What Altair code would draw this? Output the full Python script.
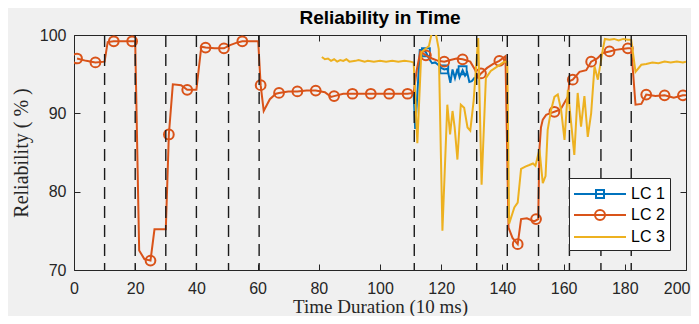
import altair as alt
import pandas as pd

# ---------------- data ----------------
series_names = ["LC 1", "LC 2", "LC 3"]
series_colors = ["#0072BD", "#D95319", "#EDB120"]

# LC 2 (orange) line vertices
lc2_x = [1, 4, 7, 10, 11, 13, 16, 19, 20, 21.3, 23, 25, 26.3, 30, 31, 32.3, 35, 37, 40,
         41.6, 43, 46, 49, 51, 53, 55, 58, 60.2, 61, 62, 64, 66, 67, 70, 73, 76, 79, 82,
         84, 85, 88, 91, 94, 97, 100, 103, 106, 109, 111, 112, 113.2, 115, 117, 119, 121,
         123, 125, 127, 129.5, 131, 132, 133, 135, 137, 139, 141, 142, 143.3, 145, 146.1,
         148, 150.4, 151.7, 152.1, 152.6, 153.2, 154.3, 155.5, 157, 159, 160.5, 161.4,
         161.9, 163, 165.2, 167.4, 169, 171, 172.8, 175, 177, 179, 181, 182.1, 183.5,
         185.4, 187, 190, 193, 196, 199, 200]
lc2_y = [97.0, 96.7, 96.5, 96.6, 99.1, 99.2, 99.2, 99.2, 99.2, 72.5, 71.4, 71.2, 75.2, 75.2,
         87.3, 93.7, 93.6, 93.0, 93.0, 98.5, 98.4, 98.3, 98.3, 98.7, 99.0, 99.2, 99.2, 99.2,
         93.6, 90.3, 91.8, 92.5, 92.6, 92.8, 92.8, 92.9, 92.9, 92.7, 92.1, 92.2, 92.5, 92.5,
         92.5, 92.5, 92.5, 92.5, 92.5, 92.5, 92.6, 95.5, 97.9, 97.4, 97.0, 96.7, 96.6, 96.8,
         97.0, 96.9, 96.6, 95.6, 94.6, 95.1, 95.8, 96.3, 96.7, 97.3, 75.4, 74.1, 73.3, 76.5,
         76.6, 76.2, 76.5, 85.4, 88.2, 89.2, 89.8, 90.0, 90.2, 90.5, 91.5, 92.1, 94.1, 94.3,
         95.3, 95.5, 96.6, 97.0, 97.7, 97.9, 98.1, 98.2, 98.3, 98.3, 91.1, 91.2, 92.4, 92.2,
         92.3, 92.0, 92.3, 92.3]
lc2_marker_x = [1, 7, 13, 19, 25, 31, 37, 43, 49, 55, 61, 67, 73, 79, 85, 91, 97, 103, 109,
                115, 121, 127, 133, 139, 145, 151, 157, 163, 169, 175, 181, 187, 193, 199]
lc2_marker_y = [97.0, 96.5, 99.2, 99.2, 71.2, 87.3, 93.0, 98.4, 98.3, 99.2, 93.6, 92.6, 92.8,
                92.9, 92.2, 92.5, 92.5, 92.5, 92.5, 97.4, 96.6, 96.9, 95.1, 96.7, 73.3, 76.5,
                90.2, 94.3, 96.6, 97.9, 98.3, 92.4, 92.3, 92.3]

# LC 1 (blue)
lc1_x = [111, 111.5, 112.3, 113, 114, 115, 116, 117, 118, 119, 120, 121, 122, 123, 123.7,
         124.5, 125.3, 126, 127, 127.8, 128.5, 129.2, 130, 131]
lc1_y = [92.5, 88.0, 93.0, 98.1, 98.1, 97.8, 97.0, 96.4, 96.5, 96.2, 95.8, 95.6, 95.7, 93.9,
         95.6, 94.5, 95.7, 94.6, 95.5, 94.8, 95.2, 94.0, 94.1, 94.6]
lc1_marker_x = [115, 121, 127]
lc1_marker_y = [97.8, 95.6, 95.5]

# LC 3 (yellow)
lc3_x = [81, 82, 83, 84, 85, 86, 87, 88, 89, 90, 92, 93, 95, 96, 98, 100, 102, 104, 106, 108,
         110, 111, 112.2, 113.5, 116, 117.6, 119.2, 120.4, 122.0, 122.9, 123.7, 124.4, 125.3,
         126.4, 127.5, 128.6, 129.5, 130.6, 131.3, 132.1, 133.2, 134.6, 136.2, 138.4, 140.6,
         141.6, 142.2, 143.9, 145, 146.1, 147.5, 148.8, 150, 150.8, 152.1, 153.2, 154.1,
         154.8, 155.9, 157, 158.1, 159.2, 160.3, 161.4, 162.4, 163.5, 164.6, 165.7, 166.8,
         167.9, 169, 170.1, 171.2, 172.8, 173.5, 175, 176.5, 178, 179.5, 181, 182.1, 183.5,
         185.4, 187, 189, 191, 193, 195, 197, 199, 200]
lc3_y = [97.2, 96.9, 97.0, 96.7, 96.9, 96.6, 96.8, 96.7, 96.9, 96.6, 96.7, 96.8, 96.6, 96.7,
         96.6, 96.7, 96.6, 96.7, 96.6, 96.7, 96.6, 96.5, 86.2, 97.8, 98.6, 101.5, 98.2, 75.0,
         91.1, 87.3, 90.3, 88.2, 84.1, 91.1, 90.7, 88.2, 87.8, 91.6, 95.4, 99.6, 80.9, 94.5,
         95.4, 96.0, 96.6, 96.6, 75.9, 78.0, 78.6, 82.9, 83.2, 83.4, 83.6, 83.3, 85.4, 81.1,
         82.0, 87.9, 90.4, 92.1, 92.4, 90.4, 86.6, 93.0, 89.0, 84.7, 92.6, 88.3, 92.2, 87.0,
         90.0, 96.0, 94.3, 98.1, 99.5, 99.4, 99.5, 99.3, 99.5, 99.4, 99.4, 95.3, 96.2, 96.3,
         96.5, 96.4, 96.6, 96.5, 96.6, 96.5, 96.6]

# vertical dashed boundaries
boundary_x = [10, 20, 30, 40, 50.5, 60.5, 111.2, 131.6, 141.6, 151.8, 161.9, 172.2, 182.1]

x_ticks = [0, 20, 40, 60, 80, 100, 120, 140, 160, 180, 200]
y_ticks = [70, 80, 90, 100]

# ---------------- chart ----------------
x_scale = alt.Scale(domain=[0, 200], nice=False, zero=False)
y_scale = alt.Scale(domain=[70, 100], nice=False, zero=False)
AX = "#262626"
SANS = "Liberation Sans"
SERIF = "Liberation Serif"

common_axis = dict(offset=-6, tickSize=6, domain=False, grid=False, tickColor=AX,
                   tickWidth=1, labelColor=AX, labelFont=SANS, labelFontSize=16,
                   labelFlush=False, labelOverlap=False, labelBound=False,
                   titleFont=SERIF, titleFontWeight="normal", titleColor=AX)

last_tick = "datum.value == 200"
x_axis_bottom = alt.Axis(orient="bottom", values=x_ticks, title="Time Duration (10 ms)",
                         labelPadding=10, titleFontSize=19, titleBaseline="alphabetic",
                         titleY=48,
                         labelAlign={"condition": {"test": last_tick, "value": "right"},
                                     "value": "center"},
                         labelOffset={"condition": {"test": last_tick, "value": 4},
                                      "value": 0},
                         **common_axis)
y_axis_left = alt.Axis(orient="left", values=y_ticks, title="Reliability ( % )",
                       labelPadding=8, titleFontSize=20, titlePadding=8, **common_axis)
x_axis_top = alt.Axis(orient="top", values=x_ticks, title=None, labels=False, **common_axis)
y_axis_right = alt.Axis(orient="right", values=y_ticks, title=None, labels=False, **common_axis)

df1 = pd.DataFrame({"x": lc1_x, "y": lc1_y})
df1m = pd.DataFrame({"x": lc1_marker_x, "y": lc1_marker_y})
df2 = pd.DataFrame({"x": lc2_x, "y": lc2_y})
df2m = pd.DataFrame({"x": lc2_marker_x, "y": lc2_marker_y})
df3 = pd.DataFrame({"x": lc3_x, "y": lc3_y})
dfb = pd.DataFrame({"x": boundary_x})
dfl = pd.DataFrame({"series": series_names})


def xy(xaxis=None, yaxis=None):
    return dict(x=alt.X("x:Q", scale=x_scale, axis=xaxis),
                y=alt.Y("y:Q", scale=y_scale, axis=yaxis))


lc1_line = alt.Chart(df1).mark_line(color=series_colors[0], strokeWidth=2, clip=True).encode(**xy())
lc1_pts = alt.Chart(df1m).mark_point(shape="square", size=64, filled=False, color=series_colors[0],
                                     strokeWidth=1.8, opacity=1, clip=True).encode(**xy())
lc2_line = alt.Chart(df2).mark_line(color=series_colors[1], strokeWidth=2, clip=True).encode(
    **xy(x_axis_bottom, y_axis_left))
lc2_pts = alt.Chart(df2m).mark_point(shape="circle", size=95, filled=False, color=series_colors[1],
                                     strokeWidth=2, opacity=1, clip=True).encode(**xy())
lc3_line = alt.Chart(df3).mark_line(color=series_colors[2], strokeWidth=2, clip=True).encode(
    **xy(x_axis_top, y_axis_right))
bounds = alt.Chart(dfb).mark_rule(color="#1a1a1a", strokeWidth=1.4, strokeDash=[12, 7]).encode(
    x=alt.X("x:Q", scale=x_scale, axis=None))

# legend symbols: a line with the series marker, drawn to the right of the entry origin
sq_path = "M-1.1,0H4.1M1.1,-0.4H1.9V0.4H1.1Z"
ci_path = "M-1.1,0H4.1M1.0,0A0.5,0.5,0,1,1,2.0,0A0.5,0.5,0,1,1,1.0,0"
ln_path = "M-1.1,0H4.1"

legend_kw = dict(title=None, orient="none", legendX=495, legendY=143, direction="vertical",
                 fillColor="white", strokeColor=AX, padding=5, labelFont=SANS, labelFontSize=16,
                 labelColor="#000000", symbolSize=400, symbolStrokeWidth=2,
                 labelOffset=35, rowPadding=2, symbolOpacity=1)

legend_layer = alt.Chart(dfl).mark_point(filled=False, opacity=0).encode(
    color=alt.Color("series:N", scale=alt.Scale(domain=series_names, range=series_colors),
                    legend=alt.Legend(**legend_kw)),
    shape=alt.Shape("series:N", scale=alt.Scale(domain=series_names, range=[sq_path, ci_path, ln_path]),
                    legend=alt.Legend(**legend_kw)),
)

chart = alt.layer(
    lc1_line, lc1_pts, lc2_line, lc2_pts, lc3_line, bounds, legend_layer
).resolve_axis(x="independent", y="independent").properties(
    width=612, height=235,
    autosize=alt.AutoSizeParams(type="none"),
    padding={"left": 66, "top": 27, "right": 5, "bottom": 46},
    background="#f0f0f0",
    title=alt.TitleParams("Reliability in Time", font=SANS, fontSize=19, fontWeight="bold",
                          color="#000000", anchor="middle", offset=12, baseline="alphabetic",
                          frame="group", dy=28),
).configure_view(fill="white", stroke=AX, strokeWidth=1)

chart.save("out.html", embed_options={"renderer": "svg", "actions": False})
